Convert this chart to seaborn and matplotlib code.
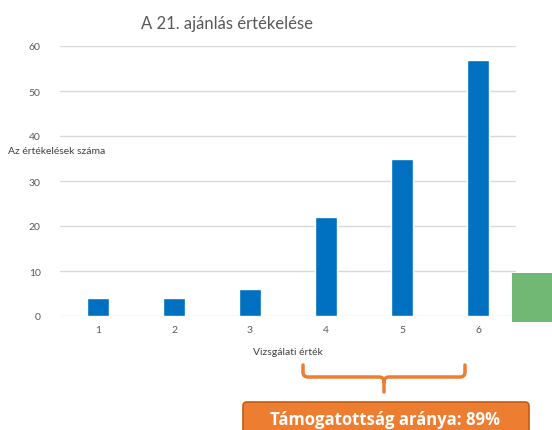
import matplotlib
matplotlib.use('Agg')
import matplotlib.pyplot as plt
import seaborn as sns
import pandas as pd
from matplotlib.patches import FancyBboxPatch, Rectangle
from matplotlib.path import Path
from matplotlib.patches import PathPatch
from matplotlib.transforms import Affine2D

# data
ertekek = ['1', '2', '3', '4', '5', '6']
darab = [4, 4, 6, 22, 35, 57]
y_ticks = [0, 10, 20, 30, 40, 50, 60]
tamogatottsag = 89

W, H = 552, 431
sns.set_theme(style='white')
plt.rcParams['font.family'] = ['Lato', 'DejaVu Sans']

fig = plt.figure(figsize=(W / 100, H / 100), dpi=100)
# pixel coordinates (origin top-left)
pix = Affine2D().scale(1, -1).translate(0, H).scale(1 / W, 1 / H) + fig.transFigure

ax = fig.add_axes([60 / W, (H - 317) / H, 456 / W, 270 / H])
df = pd.DataFrame({'ertek': ertekek, 'db': darab})
sns.barplot(data=df, x='ertek', y='db', color='#0070C0', width=0.3,
            saturation=1, ax=ax)
ax.set_ylim(0, 60)
ax.set_yticks(y_ticks)
ax.yaxis.grid(True, color='#D9D9D9', linewidth=1)
ax.set_axisbelow(True)
for s in ax.spines.values():
    s.set_visible(False)
ax.tick_params(axis='both', length=0, labelsize=7.5, labelcolor='#595959')
ax.tick_params(axis='x', pad=6.5)
ax.tick_params(axis='y', pad=14)
ax.set_xlabel('Vizsgálati érték', fontsize=7.5, color='#404040', labelpad=9.5)
ax.set_ylabel('')

fig.text(8 / W, 1 - 152 / H, 'Az értékelések száma', fontsize=7.5,
         color='#404040', ha='left', va='center')
fig.text(227 / W, 1 - 24 / H, 'A 21. ajánlás értékelése', fontsize=12,
         color='#595959', ha='center', va='center')

# green marker on the right
fig.add_artist(Rectangle((512, 323), 40, -49, transform=pix,
                         facecolor='#70B873', edgecolor='none'))

# orange brace
orange = '#ED7D31'
r = 5
top, mid, tip = 366, 378, 393
verts = [(303, top), (303, mid - r), (303, mid), (303 + r, mid),
         (384 - r, mid), (384, mid), (384, mid + r), (384, tip),
         (384, mid + r), (384, mid), (384 + r, mid),
         (465 - r, mid), (465, mid), (465, mid - r), (465, top)]
codes = [Path.MOVETO, Path.LINETO, Path.CURVE3, Path.CURVE3,
         Path.LINETO, Path.CURVE3, Path.CURVE3, Path.LINETO,
         Path.MOVETO, Path.CURVE3, Path.CURVE3,
         Path.LINETO, Path.CURVE3, Path.CURVE3, Path.LINETO]
fig.add_artist(PathPatch(Path(verts, codes), transform=pix, fill=False,
                         edgecolor=orange, linewidth=2.5, capstyle='round'))

# label box
fig.add_artist(FancyBboxPatch((243, 403), 286, 36, transform=pix,
                              boxstyle='round,pad=0,rounding_size=4',
                              facecolor=orange, edgecolor='#C55A11',
                              linewidth=1.2))
fig.text(385 / W, 1 - 425 / H, f'Támogatottság aránya: {tamogatottsag}%',
         fontsize=12, fontweight='bold', color='white',
         family=['Open Sans', 'DejaVu Sans'], ha='center', va='baseline')

fig.savefig('out.png', dpi=100)
